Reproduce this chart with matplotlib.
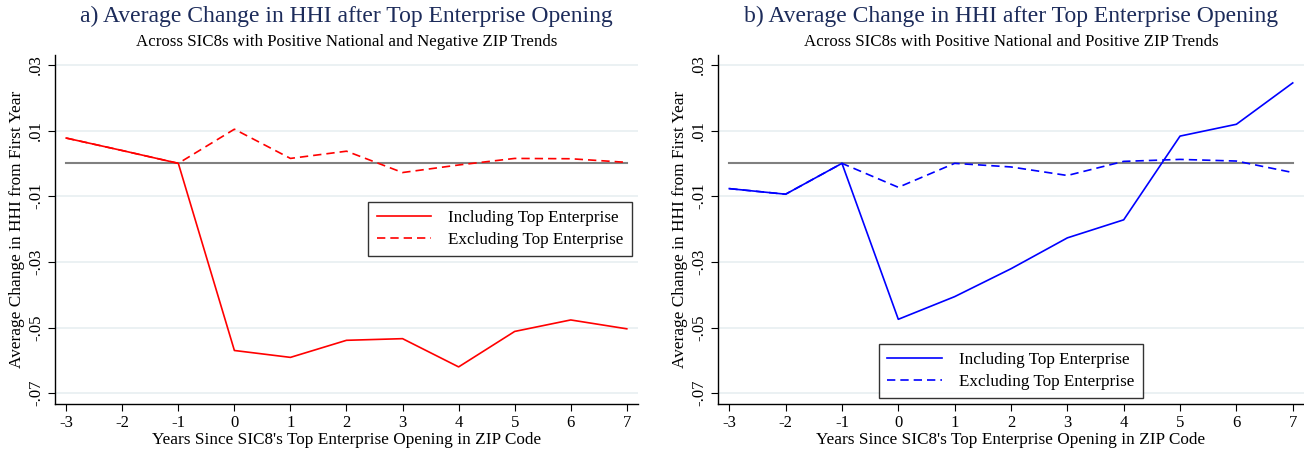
import matplotlib
matplotlib.use("Agg")
import matplotlib.pyplot as plt

plt.rcParams['font.family'] = ['Liberation Serif', 'DejaVu Serif']

# data
years = [-3, -2, -1, 0, 1, 2, 3, 4, 5, 6, 7]

a_incl = [0.0077, 0.0039, 0.0, -0.0570, -0.0591, -0.0539, -0.0534, -0.0620, -0.0512, -0.0477, -0.0504]
a_excl = [0.0077, 0.0039, 0.0, 0.0104, 0.0015, 0.0037, -0.0028, -0.0005, 0.0015, 0.0014, 0.0003]

b_incl = [-0.0077, -0.0094, 0.0, -0.0475, -0.0406, -0.0321, -0.0227, -0.0172, 0.0083, 0.0119, 0.0245]
b_excl = [-0.0077, -0.0094, 0.0, -0.0073, 0.0, -0.0011, -0.0037, 0.0006, 0.0012, 0.0007, -0.0028]

yticks = [0.03, 0.01, -0.01, -0.03, -0.05, -0.07]
ytick_labels = ['.03', '.01', '-.01', '-.03', '-.05', '-.07']

titles = ["a) Average Change in HHI after Top Enterprise Opening",
          "b) Average Change in HHI after Top Enterprise Opening"]
subtitles = ["Across SIC8s with Positive National and Negative ZIP Trends",
             "Across SIC8s with Positive National and Positive ZIP Trends"]

W, H = 1304, 453
fig = plt.figure(figsize=(W / 100, H / 100), dpi=100)

title_color = '#1c2b5a'
grid_color = '#e8eff1'

panels = [
    (55, 638, 'red', a_incl, a_excl, dict(loc='upper right', bbox_to_anchor=(0.99, 0.579))),
    (718, 1304, 'blue', b_incl, b_excl, dict(loc='lower center', bbox_to_anchor=(0.5, 0.017))),
]

top_px, bot_px = 55, 404
for i, (l, r, col, incl, excl, legkw) in enumerate(panels):
    ax = fig.add_axes([l / W, 1 - bot_px / H, (r - l) / W, (bot_px - top_px) / H])
    ax.set_xlim(-3.2, 7.2)
    ax.set_ylim(-0.0733, 0.033)
    for yv in yticks:
        ax.axhline(yv, color=grid_color, lw=1.2, zorder=0)
    ax.plot(years, [0] * len(years), color='#808080', lw=1.5, zorder=1)
    ax.plot(years, incl, color=col, lw=1.2, label='Including Top Enterprise', zorder=3)
    ax.plot(years, excl, color=col, lw=1.2, ls=(0, (5, 3)), label='Excluding Top Enterprise', zorder=2)

    ax.spines['top'].set_visible(False)
    ax.spines['right'].set_visible(False)
    ax.spines['left'].set_linewidth(1.0)
    ax.spines['bottom'].set_linewidth(1.0)
    ax.set_xticks(years)
    ax.set_xticklabels([str(y) for y in years], fontsize=12)
    ax.set_yticks(yticks)
    ax.set_yticklabels(ytick_labels, fontsize=12, rotation=90, va='center')
    ax.tick_params(direction='out', length=5, width=0.8, pad=3)
    ax.set_xlabel("Years Since SIC8's Top Enterprise Opening in ZIP Code", fontsize=12.4, labelpad=1)
    ax.set_ylabel("Average Change in HHI from First Year", fontsize=12.4, labelpad=2)

    leg = ax.legend(fontsize=12.3, frameon=True, fancybox=False, handlelength=3.2,
                    borderpad=0.5, labelspacing=0.3, handletextpad=1.0,
                    borderaxespad=0, **legkw)
    leg.get_frame().set_edgecolor('black')
    leg.get_frame().set_linewidth(1.0)

    cx = (l + r) / 2 / W
    fig.text(cx, 1 - 16 / H, titles[i], ha='center', va='center', fontsize=17, color=title_color)
    fig.text(cx, 1 - 42 / H, subtitles[i], ha='center', va='center', fontsize=12.2, color='black')

fig.savefig('out.png', dpi=100)
